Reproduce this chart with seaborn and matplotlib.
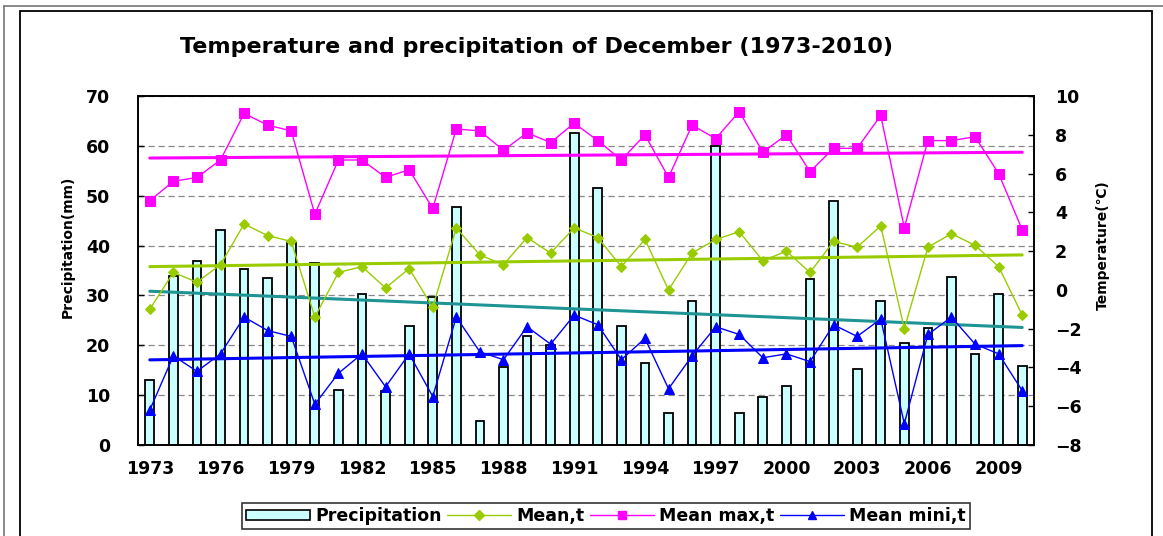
import numpy as np
import pandas as pd
import matplotlib
matplotlib.use("Agg")
import matplotlib.pyplot as plt
import matplotlib.patches as mpatches
from matplotlib.lines import Line2D
import seaborn as sns

# ── data ──────────────────────────────────────────────────────────────────────
years = list(range(1973, 2011))
precip = [13.0, 33.8, 36.9, 43.2, 35.3, 33.4, 40.5, 36.6, 11.1, 30.2,
          10.8, 23.9, 29.7, 47.7, 4.8, 15.6, 21.9, 20.0, 62.5, 51.5,
          23.9, 16.5, 6.4, 28.9, 60.0, 6.4, 9.6, 11.8, 33.3, 48.9,
          15.2, 28.9, 20.4, 23.5, 33.6, 18.2, 30.2, 15.9]
mean_t = [-1.0, 0.9, 0.4, 1.3, 3.4, 2.8, 2.5, -1.4, 0.9, 1.2,
          0.1, 1.1, -0.9, 3.2, 1.8, 1.3, 2.7, 1.9, 3.2, 2.7,
          1.2, 2.6, 0.0, 1.9, 2.6, 3.0, 1.5, 2.0, 0.9, 2.5,
          2.2, 3.3, -2.0, 2.2, 2.9, 2.3, 1.2, -1.3]
mean_max_t = [4.6, 5.6, 5.8, 6.7, 9.1, 8.5, 8.2, 3.9, 6.7, 6.7,
              5.8, 6.2, 4.2, 8.3, 8.2, 7.2, 8.1, 7.6, 8.6, 7.7,
              6.7, 8.0, 5.8, 8.5, 7.8, 9.2, 7.1, 8.0, 6.1, 7.3,
              7.3, 9.0, 3.2, 7.7, 7.7, 7.9, 6.0, 3.1]
mean_min_t = [-6.2, -3.4, -4.2, -3.3, -1.4, -2.1, -2.4, -5.9, -4.3, -3.3,
              -5.0, -3.3, -5.5, -1.4, -3.2, -3.6, -1.9, -2.8, -1.3, -1.8,
              -3.6, -2.5, -5.1, -3.4, -1.9, -2.3, -3.5, -3.3, -3.7, -1.8,
              -2.4, -1.5, -6.9, -2.3, -1.4, -2.8, -3.3, -5.2]
year_labels = [str(y) if (y - 1973) % 3 == 0 else "" for y in years]

TITLE = "Temperature and precipitation of December (1973-2010)"

COL = {
    "bar":    "#CCFFFF",
    "green":  "#99CC00",
    "pink":   "#FF00FF",
    "blue":   "#0000FF",
    "teal":   "#1E9494",
}

# ── figure ───────────────────────────────────────────────────────────────────
sns.set_style("white")
plt.rcParams["font.family"] = ["DejaVu Sans"]
plt.rcParams["font.weight"] = "bold"
for k in ("text.color", "axes.labelcolor", "xtick.color", "ytick.color"):
    plt.rcParams[k] = "black"

W, H = 1163, 536
fig = plt.figure(figsize=(W / 100, H / 100), dpi=100)
ax = fig.add_axes([138 / W, 1 - 445 / H, (1034 - 138) / W, (445 - 96) / H])
ax2 = ax.twinx()

pos = np.arange(len(years))
df = pd.DataFrame({"year": [str(y) for y in years], "pos": pos,
                   "precip": precip, "mean_t": mean_t,
                   "max_t": mean_max_t, "min_t": mean_min_t})

# precipitation bars + trend
sns.barplot(data=df, x="year", y="precip", ax=ax, color=COL["bar"],
            saturation=1, width=0.37, edgecolor="black", linewidth=1.3)
sns.regplot(data=df, x="pos", y="precip", ax=ax, scatter=False, ci=None,
            truncate=True, line_kws={"color": COL["teal"], "lw": 2.2})

# temperature lines + trends
series = [("mean_t", COL["green"], "D", 5.5),
          ("max_t", COL["pink"], "s", 7),
          ("min_t", COL["blue"], "^", 7)]
for col, c, m, ms in series:
    sns.lineplot(data=df, x="pos", y=col, ax=ax2, color=c, lw=1.0,
                 marker=m, markersize=ms, markeredgecolor=c, legend=False)
    sns.regplot(data=df, x="pos", y=col, ax=ax2, scatter=False, ci=None,
                truncate=True, line_kws={"color": c, "lw": 2.2})

# axes
ax.set_xlim(-0.5, len(years) - 0.5)
ax.set_ylim(0, 70)
ax2.set_ylim(-8, 10)
ax.set_yticks(range(0, 71, 10))
ax2.set_yticks(range(-8, 11, 2))
ax.set_xticks(pos)
ax.set_xticklabels(year_labels)
ax.set_xticks(np.arange(-0.5, len(years), 1), minor=True)
ax.tick_params(axis="x", which="major", length=0, pad=11, labelsize=12.5)
ax.tick_params(axis="x", which="minor", direction="in", length=4, width=1, color="black")
ax.tick_params(axis="y", direction="in", length=4, width=1, color="black",
               pad=20, labelsize=12.5)
ax2.tick_params(axis="y", direction="in", length=4, width=1, color="black",
                pad=15, labelsize=12.5)
for a in (ax, ax2):
    a.set_xlabel("")
    a.set_ylabel("")
    for s in a.spines.values():
        s.set_color("black")
        s.set_linewidth(1.2)

ax.yaxis.grid(True, linestyle=(0, (5, 3)), color="#888888", lw=0.9)
ax.set_axisbelow(True)

fig.text(68 / W, 1 - 247 / H, "Precipitation(mm)", rotation=90, ha="center",
         va="center", fontsize=10)
fig.text(1103 / W, 1 - 245 / H, "Temperature(℃)", rotation=90, ha="center",
         va="center", fontsize=10)
fig.text(536 / W, 1 - 47 / H, TITLE, ha="center", va="center",
         fontsize=16, fontweight="bold")

# legend
handles = [
    mpatches.Patch(facecolor=COL["bar"], edgecolor="black", lw=1.2),
    Line2D([], [], color=COL["green"], marker="D", ms=5, lw=1),
    Line2D([], [], color=COL["pink"], marker="s", ms=6, lw=1),
    Line2D([], [], color=COL["blue"], marker="^", ms=6, lw=1),
]
labels = ["Precipitation", "Mean,t", "Mean max,t", "Mean mini,t"]
leg = fig.legend(handles, labels, loc="center", ncol=4,
                 bbox_to_anchor=(606 / W, 1 - 516 / H), frameon=True,
                 fancybox=False, edgecolor="black", fontsize=12.5,
                 handlelength=3.7, handleheight=0.5, columnspacing=0.3,
                 handletextpad=0.3, borderpad=0.25, borderaxespad=0)
leg.get_frame().set_linewidth(1.2)

# outer frames
fig.add_artist(mpatches.Rectangle((20 / W, -0.02), (1152 - 20) / W, (H - 11) / H + 0.02,
                                  transform=fig.transFigure, fill=False,
                                  edgecolor="black", lw=1.3))
fig.add_artist(Line2D([4 / W, 1], [1 - 6 / H, 1 - 6 / H], transform=fig.transFigure,
                      color="#777777", lw=1.2))
fig.add_artist(Line2D([4 / W, 4 / W], [0, 1 - 6 / H], transform=fig.transFigure,
                      color="#777777", lw=1.2))

fig.savefig("out.png", dpi=100)
